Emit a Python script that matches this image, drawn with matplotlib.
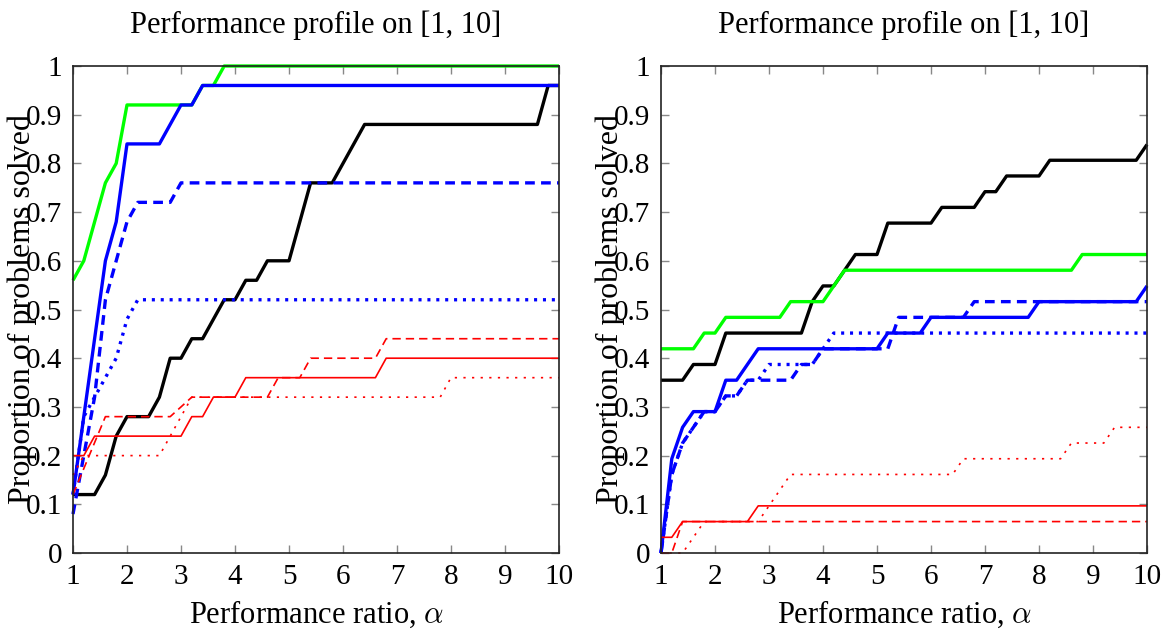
import numpy as np
import matplotlib
matplotlib.use("Agg")
import matplotlib.pyplot as plt

plt.rc('font', family='serif', serif=['Liberation Serif', 'DejaVu Serif'])
plt.rc('mathtext', fontset='cm')
plt.rcParams['lines.scale_dashes'] = False

# profile breakpoints: (ratio, number of problems solved)
n_left = 25
left_black = [(1, 3), (1.4, 3), (1.6, 4), (1.8, 6), (2.0, 7), (2.4, 7), (2.6, 8), (2.8, 10),
              (3.0, 10), (3.2, 11), (3.4, 11), (3.6, 12), (3.8, 13), (4.0, 13), (4.2, 14),
              (4.4, 14), (4.6, 15), (5.0, 15), (5.2, 17), (5.4, 19), (5.8, 19), (6.4, 22),
              (9.6, 22), (9.8, 24), (10, 24)]
left_green = [(1, 14), (1.2, 15), (1.6, 19), (1.8, 20), (2.0, 23), (3.2, 23), (3.4, 24),
              (3.6, 24), (3.8, 25), (10, 25)]
left_blue = [(1, 3), (1.6, 15), (1.8, 17), (2.0, 21), (2.6, 21), (2.8, 22), (3.0, 23),
             (3.2, 23), (3.4, 24), (10, 24)]
left_blue_dash = [(1, 2), (1.2, 5), (1.4, 8), (1.6, 13), (1.8, 15), (2.0, 17), (2.2, 18),
                  (2.8, 18), (3.0, 19), (10, 19)]
left_blue_dot = [(1, 3), (1.2, 7), (1.4, 8), (1.6, 9), (1.8, 10), (2.0, 12), (2.2, 13), (10, 13)]
left_red = [(1, 5), (1.2, 5), (1.4, 6), (3.0, 6), (3.2, 7), (3.4, 7), (3.6, 8), (4.0, 8),
            (4.2, 9), (6.6, 9), (6.8, 10), (10, 10)]
left_red_dash = [(1, 3), (1.6, 7), (2.8, 7), (3.2, 8), (4.6, 8), (4.8, 9), (5.2, 9), (5.4, 10),
                 (6.6, 10), (6.8, 11), (10, 11)]
left_red_dot = [(1, 4), (1.2, 5), (2.6, 5), (3.2, 8), (7.8, 8), (8.0, 9), (10, 9)]

n_right = 31
right_black = [(1, 11), (1.4, 11), (1.6, 12), (2.0, 12), (2.2, 14), (3.6, 14), (3.8, 16),
               (4.0, 17), (4.2, 17), (4.6, 19), (5.0, 19), (5.2, 21), (6.0, 21), (6.2, 22),
               (6.8, 22), (7.0, 23), (7.2, 23), (7.4, 24), (8.0, 24), (8.2, 25), (9.8, 25),
               (10, 26)]
right_green = [(1, 13), (1.6, 13), (1.8, 14), (2.0, 14), (2.2, 15), (3.2, 15), (3.4, 16),
               (4.0, 16), (4.4, 18), (8.6, 18), (8.8, 19), (10, 19)]
right_blue = [(1, 0), (1.2, 6), (1.4, 8), (1.6, 9), (2.0, 9), (2.2, 11), (2.4, 11), (2.8, 13),
              (5.0, 13), (5.2, 14), (5.8, 14), (6.0, 15), (7.8, 15), (8.0, 16), (9.8, 16),
              (10, 17)]
right_blue_dash = [(1, 0), (1.2, 5), (1.4, 7), (1.6, 8), (1.8, 9), (2.0, 9), (2.2, 10),
                   (2.4, 10), (2.6, 11), (3.4, 11), (3.6, 12), (3.8, 12), (4.0, 13), (5.2, 13),
                   (5.4, 15), (6.6, 15), (6.8, 16), (10, 16)]
right_blue_dot = [(1, 0), (1.2, 5), (1.4, 7), (1.6, 8), (1.8, 9), (2.0, 9), (2.2, 10),
                  (2.4, 10), (2.6, 11), (2.8, 11), (3.0, 12), (3.8, 12), (4.2, 14), (10, 14)]
right_red = [(1, 1), (1.2, 1), (1.4, 2), (2.6, 2), (2.8, 3), (10, 3)]
right_red_dash = [(1, 0), (1.2, 0), (1.4, 2), (10, 2)]
right_red_dot = [(1, 0), (1.4, 0), (1.8, 2), (2.8, 2), (3.4, 5), (6.4, 5), (6.6, 6), (8.4, 6),
                 (8.6, 7), (9.2, 7), (9.4, 8), (10, 8)]

thick = 2.4
thin = 1.2
styles = {
    'black': dict(color='black', lw=thick),
    'green': dict(color='#00ff00', lw=thick),
    'blue': dict(color='#0000ff', lw=thick),
    'blue_dash': dict(color='#0000ff', lw=thick, dashes=(7, 4.5)),
    'blue_dot': dict(color='#0000ff', lw=thick, dashes=(2.2, 4.2)),
    'red': dict(color='#ff0000', lw=thin),
    'red_dash': dict(color='#ff0000', lw=thin, dashes=(6, 3.6)),
    'red_dot': dict(color='#ff0000', lw=thin, dashes=(1.6, 4.6)),
}

fig = plt.figure(figsize=(11.72, 6.30), dpi=100)
ax1 = fig.add_axes([73/1172, 77/630, 486/1172, 487/630])
ax2 = fig.add_axes([661/1172, 77/630, 486/1172, 487/630])

panels = [
    (ax1, n_left, [('black', left_black), ('green', left_green), ('blue', left_blue),
                   ('blue_dash', left_blue_dash), ('blue_dot', left_blue_dot),
                   ('red', left_red), ('red_dash', left_red_dash), ('red_dot', left_red_dot)]),
    (ax2, n_right, [('black', right_black), ('green', right_green), ('blue', right_blue),
                    ('blue_dash', right_blue_dash), ('blue_dot', right_blue_dot),
                    ('red', right_red), ('red_dash', right_red_dash), ('red_dot', right_red_dot)]),
]

for ax, n, curves in panels:
    for key, pts in curves:
        x = [p[0] for p in pts]
        y = [p[1] / n for p in pts]
        ax.plot(x, y, solid_capstyle='butt', dash_capstyle='butt', clip_on=False, **styles[key])
    ax.set_xlim(1, 10)
    ax.set_ylim(0, 1)
    ax.set_xticks(range(1, 11))
    ax.set_yticks(np.arange(0, 1.01, 0.1))
    ax.set_yticklabels(['0', '0.1', '0.2', '0.3', '0.4', '0.5', '0.6', '0.7', '0.8', '0.9', '1'])
    ax.tick_params(direction='in', length=6, width=1, color='#888888', labelsize=21,
                   top=True, right=True, pad=8)
    for s in ax.spines.values():
        s.set_linewidth(1.2)
        s.set_color('#222222')
    ax.set_title("Performance profile on [1, 10]", fontsize=22, pad=24)
    ax.set_xlabel(r"Performance ratio, $\alpha$", fontsize=22, labelpad=6)
    ax.set_ylabel("Proportion of problems solved", fontsize=23)
    ax.yaxis.set_label_coords(-0.075, 0.5)

plt.savefig("out.png", dpi=100)
print("Done!")
